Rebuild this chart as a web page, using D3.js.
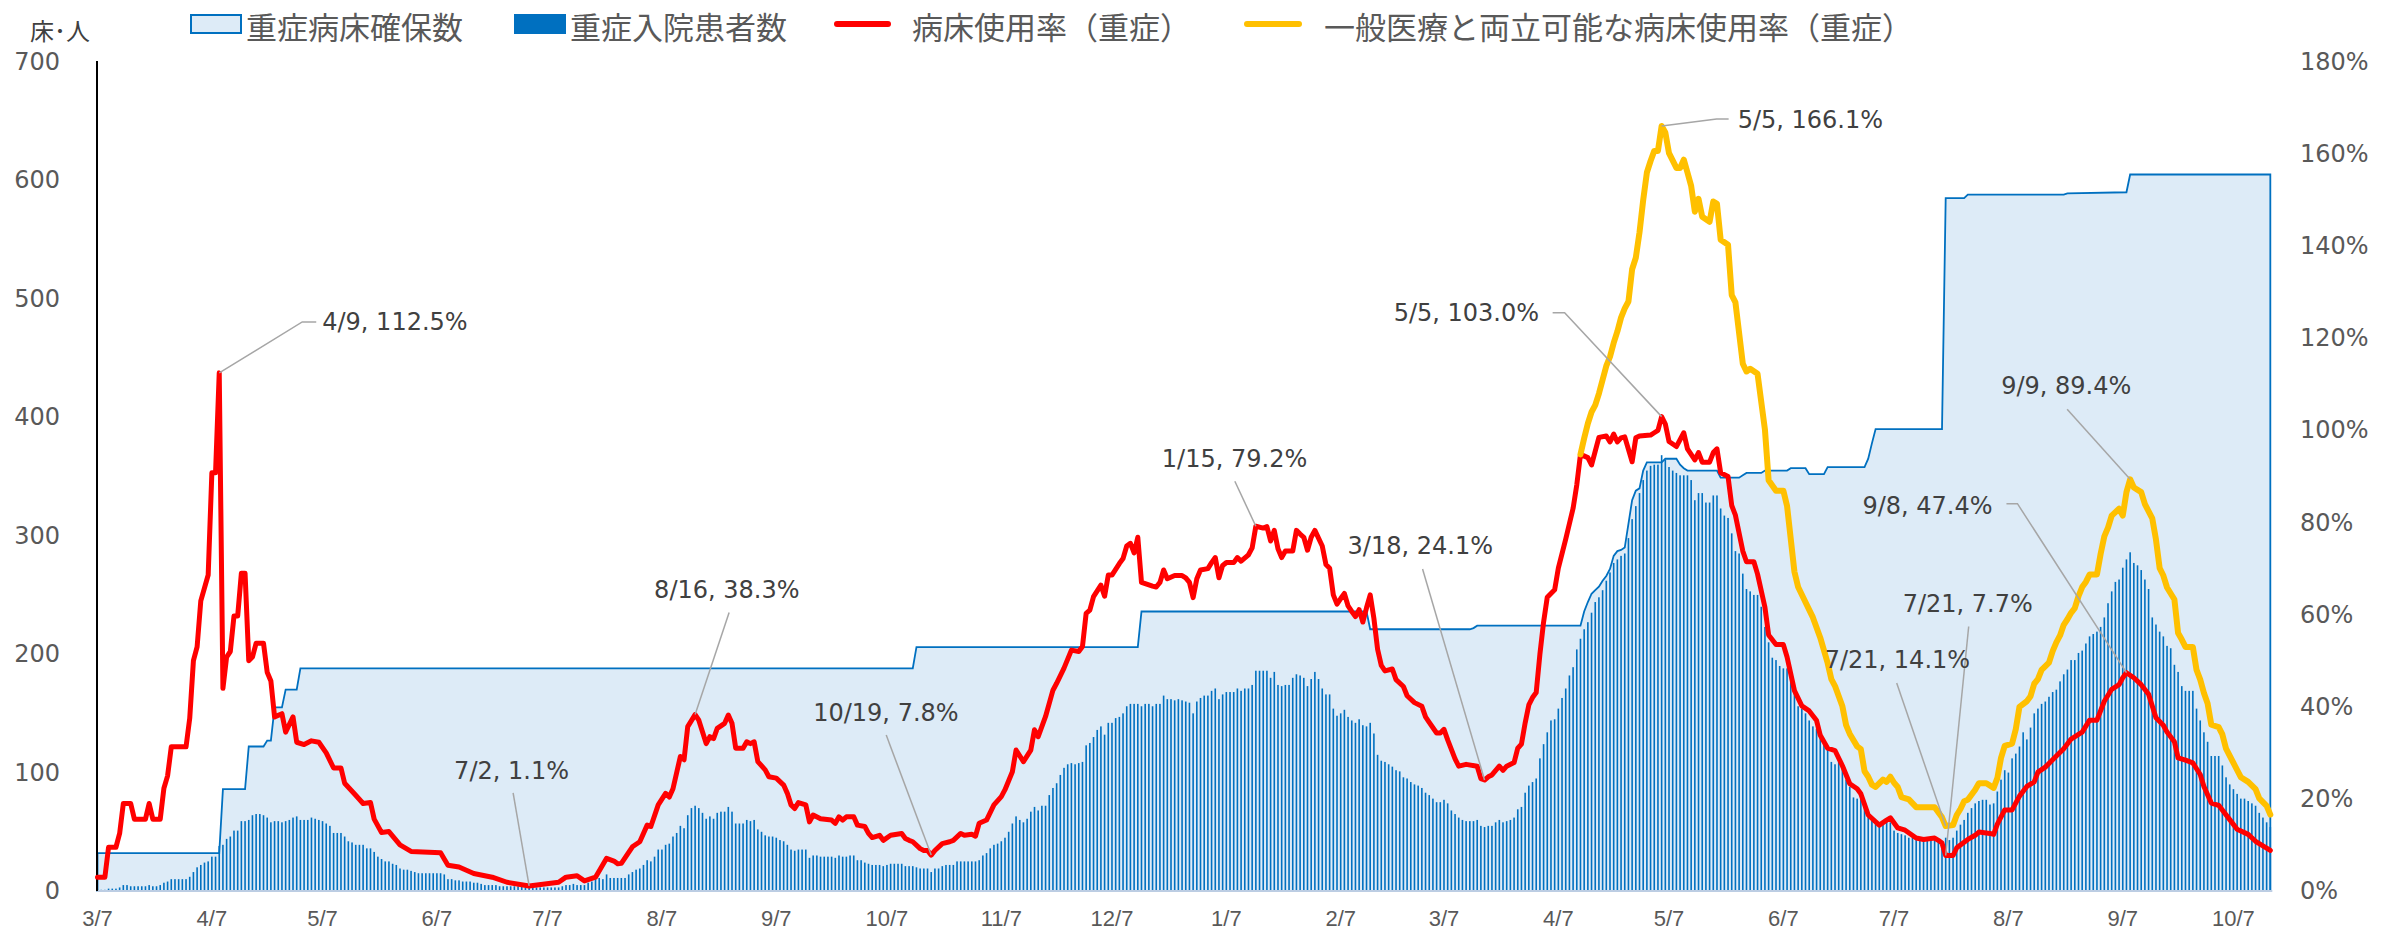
<!DOCTYPE html>
<html>
<head>
<meta charset="utf-8">
<script src="https://cdn.jsdelivr.net/npm/d3@7"></script>
<style>
  body { margin: 0; background: #fff; }
  text { font-family: "DejaVu Sans", Verdana, sans-serif; }
  .jp { font-family: "Noto Sans CJK JP", sans-serif; }
</style>
</head>
<body>
<script>
// data (day offsets counted from 2020-03-07)
const startDate = '2020-03-07';
const lastDay = 589;

// 重症入院患者数, one value per day
const patients = [
  1,1,1,2,2,2,3,5,5,4, 4,4,4,4,5,4,4,5,7,8, 10,10,10,10,10,12,16,20,22,24,
  25,29,29,38,39,44,46,51,51,59, 59,60,64,65,65,64,62,58,59,59, 58,59,60,62,63,60,60,60,62,61,
  60,59,57,55,49,49,49,46,42,41, 39,39,39,36,36,33,29,27,25,25, 23,22,19,18,18,17,16,15,15,15,
  15,15,15,15,14,10,10,9,9,8, 8,8,7,7,6,5,5,5,5,4, 4,4,4,4,4,4,3,3,3,3,
  3,3,3,3,3,3,4,5,5,6, 5,5,5,7,8,10,11,10,14,11, 11,11,11,11,14,16,18,19,22,26,
  25,29,35,35,39,40,46,49,55,53, 64,70,72,70,66,61,63,61,66,67, 67,71,67,57,57,57,60,59,60,52,
  50,47,46,46,45,43,42,39,35,34, 35,35,35,28,30,30,29,29,29,29, 28,30,29,29,30,30,26,26,24,23,
  22,22,22,21,22,23,23,23,23,21, 21,21,20,19,19,19,16,19,19,21, 22,22,22,25,25,25,25,25,25,26,
  30,32,36,39,40,42,45,50,57,63, 60,58,61,67,71,68,72,72,81,87, 91,98,104,107,108,107,108,109,123,125,
  130,136,139,132,142,142,146,147,150,156, 158,158,158,156,158,158,156,158,158,165, 162,162,161,162,161,160,159,150,160,163,
  165,165,169,171,162,166,168,168,168,171, 169,171,171,174,186,186,186,186,180,185, 174,173,174,174,180,183,182,180,173,179,
  185,179,171,166,166,154,148,150,153,147, 144,142,145,140,139,142,133,115,110,109, 107,105,102,101,96,95,92,90,89,87,
  83,81,78,75,75,77,74,68,65,62, 60,59,59,59,60,55,54,55,55,58, 60,58,59,60,62,69,71,83,89,92,
  95,112,124,134,144,145,154,163,171,182, 189,204,213,221,227,235,244,248,254,262, 269,277,280,283,285,298,314,325,336,347,
  355,359,360,360,368,364,358,355,353,351, 351,351,347,330,336,336,328,328,334,334, 323,317,315,302,287,285,268,255,253,250,
  250,240,223,210,197,195,190,188,188,184, 169,156,154,150,144,139,137,131,126,122, 109,107,109,103,94,88,79,78,78,73,
  66,62,58,56,58,60,58,51,49,48, 47,45,45,43,43,43,44,43,44,42, 41,45,43,45,51,56,60,66,70,74,
  76,77,77,73,74,84,94,102,100,112, 116,122,134,128,138,150,154,158,160,164, 168,170,177,183,187,195,195,201,203,209,
  215,217,219,223,231,243,253,261,263,273, 280,286,277,275,271,263,255,231,225,219, 215,207,205,191,185,173,169,169,169,154,
  144,134,126,114,114,114,106,96,90,86, 82,78,78,76,74,72,66,62,58,54
];

// 重症病床確保数 [day, beds]
const beds = [[0,32],[33,32],[34,86],[40,86],[41,122],[45,122],[46,127],[47,127],[48,155],[50,155],[51,170],[54,170],[55,188],
  [221,188],[222,206],[282,206],[283,236],[344,236],[345,221],[372,221],[373,222],[374,224],[402,224],[403,236],[404,244],
  [405,251],[406,254],[407,257],[408,262],[409,266],[410,272],[411,283],[412,287],[413,288],[414,290],[415,310],[416,330],
  [417,338],[418,340],[419,355],[420,362],[424,362],[425,365],[428,365],[429,360],[430,357],[431,355],[439,355],[440,349],
  [445,349],[446,351],[447,353],[451,353],[452,355],[458,355],[459,357],[463,357],[464,352],[468,352],[469,358],[479,358],
  [480,365],[481,378],[482,390],[500,390],[501,585],[506,585],[507,588],[533,588],[534,589],[550,590],[551,605],[589,605]];

// 病床使用率（重症） [day, %]
const rateSevere = [[0,3],[2,3],[3,9.5],[5,9.5],[6,12.5],[7,19],[9,19],[10,15.6],[13,15.6],[14,19],[15,15.6],[17,15.6],[18,22.3],
  [19,25],[20,31.3],[24,31.3],[25,37.5],[26,50],[27,53],[28,63],[30,68.6],[31,90.8],[32,90.8],[33,112.5],[34,44],[35,50.8],
  [36,52],[37,59.7],[38,59.7],[39,69],[40,69],[41,50],[42,50.8],[43,53.8],[45,53.8],[46,47.5],[47,45.6],[48,37.8],[50,38.5],
  [51,34.5],[53,37.8],[54,32.3],[56,31.8],[58,32.6],[60,32.3],[62,30],[64,26.7],[66,26.7],[67,23.4],[70,20.8],[72,19],
  [74,19.2],[75,15.6],[77,12.7],[79,12.9],[82,10],[85,8.6],[93,8.3],[95,5.6],[98,5.2],[102,3.8],[107,3],[111,1.9],[117,1.1],
  [125,1.9],[127,3],[130,3.3],[132,2.2],[135,3],[138,7.1],[140,6.5],[141,5.9],[142,6],[145,9.6],[147,10.7],[149,14.3],
  [150,14],[152,18.7],[154,21.2],[155,20.4],[156,22.2],[158,29.2],[159,28.5],[160,35.7],[162,38.3],[163,37.1],[165,32],
  [166,33.5],[167,33.1],[168,35.3],[170,36.4],[171,38.2],[172,36.4],[173,31],[175,31],[176,32.4],[177,32],[178,32.4],
  [179,28.1],[181,26.3],[182,24.8],[184,24.5],[186,23],[187,21.2],[188,18.7],[189,17.9],[190,19.2],[192,18.7],[193,15],
  [194,16.5],[196,15.7],[199,15.4],[200,14.7],[201,16.1],[202,15.4],[203,16.1],[205,16.1],[206,14.3],[208,14],[209,12.5],
  [210,11.6],[212,12.1],[213,11],[215,12.1],[218,12.5],[219,11.4],[220,11],[221,10.7],[223,9.2],[224,8.8],[225,8.8],
  [226,7.8],[227,8.8],[229,10.3],[231,10.7],[232,11],[234,12.5],[235,12.1],[237,12.3],[238,11.9],[239,14.7],[241,15.4],
  [243,18.7],[245,20.5],[246,22],[248,25.9],[249,30.6],[251,28.1],[253,30.6],[254,35],[255,33.5],[257,37.9],[259,43.6],
  [260,45.1],[262,48.4],[264,52.3],[266,52],[267,53.1],[268,60.3],[269,61],[270,63.9],[272,66.4],[273,64],[274,68.6],
  [275,68.6],[277,71.1],[278,72.2],[279,74.9],[280,75.5],[281,73.4],[282,76.8],[283,67],[286,66.2],[287,66],[288,67],
  [289,69.7],[290,67.8],[292,68.5],[294,68.5],[295,68],[296,67],[297,63.7],[298,67.8],[299,69.7],[301,70],[302,71.3],
  [303,72.4],[304,68],[305,70.7],[306,71.3],[308,71.3],[309,72.4],[310,71.6],[312,73],[313,74.5],[314,79.2],[316,78.8],
  [317,79.1],[318,76],[319,78.3],[320,74.3],[321,72.4],[322,73.8],[324,73.8],[325,78.3],[326,77.5],[327,76.8],[328,74],
  [329,76.8],[330,78.3],[332,74.9],[333,70.9],[334,70.1],[335,64.3],[336,62.3],[337,63.5],[338,64.6],[339,61.9],[340,60.7],
  [341,59.6],[342,61.1],[343,58.4],[344,61.5],[345,64.3],[346,59.2],[347,52.5],[348,49],[349,47.8],[351,48.2],[352,45.9],
  [354,44.4],[355,42.4],[357,40.9],[359,40.1],[360,37.8],[361,36.6],[363,34.3],[364,34.3],[365,35.1],[366,32.8],[368,28.7],
  [369,27.1],[371,27.5],[374,27.1],[375,24.4],[376,24.1],[377,24.8],[378,25.2],[380,27.1],[381,26.2],[382,27.1],[384,27.9],
  [385,31],[386,31.9],[387,36.5],[388,40.4],[389,42],[390,43.1],[391,51.4],[392,58.4],[393,63.8],[395,65.4],[396,70.1],
  [398,76.4],[400,83.1],[401,88.2],[402,94.8],[404,94.1],[405,92.5],[407,98.5],[409,98.8],[410,97.5],[411,99.2],[412,97.5],
  [413,98.4],[414,98.6],[416,93.2],[417,98.4],[418,98.8],[421,99],[422,99.5],[423,100],[424,103],[425,101.4],[426,97.6],
  [428,96.5],[430,99.5],[431,96],[433,93.6],[434,95.2],[435,93.1],[437,93.1],[438,95.2],[439,96],[440,90.8],[442,90],
  [443,83.7],[444,81.6],[446,73.8],[447,71.5],[449,71.5],[450,68.8],[452,61.6],[453,55.6],[455,53.5],[457,53.5],[458,50.8],
  [460,43.5],[462,40.2],[464,39.1],[466,37],[467,33.8],[469,31],[471,30.5],[473,27.2],[475,23.3],[477,22.2],[478,21.1],
  [480,16.5],[483,14.3],[485,15.4],[486,15.9],[488,13.7],[490,13.2],[493,11.5],[495,11.2],[498,11.5],[499,11],[500,10.4],
  [501,7.7],[503,7.7],[504,9.4],[507,11.2],[509,12.1],[510,12.8],[513,12.5],[514,12.3],[515,14.5],[517,17.6],[519,17.6],
  [521,20.6],[523,22.7],[525,23.7],[526,25.8],[528,26.9],[531,29.3],[533,30.9],[535,33],[537,34],[538,34.5],[540,37.1],
  [542,37.1],[544,41.2],[546,43.8],[548,44.8],[549,46.3],[550,47.4],[552,46.3],[554,44.8],[556,42.7],[558,37.6],[560,36],
  [561,34.5],[563,32.4],[564,28.9],[566,28.4],[568,27.8],[570,25.3],[571,22.7],[573,19.1],[575,18.6],[578,15.5],[580,13.4],
  [583,12.3],[585,10.8],[587,9.8],[589,8.8]];

// 一般医療と両立可能な病床使用率（重症） [day, %]
const rateCompat = [[402,94.8],[403,98.3],[404,101.5],[405,104],[406,105.5],[407,108],[408,111],[409,114],[410,116],[411,119],
  [412,121.5],[413,124.5],[414,126.5],[415,128],[416,135],[417,137.5],[418,143],[419,150],[420,156],[421,158.5],[422,160.7],
  [423,160.7],[424,166.1],[425,164.7],[426,160.2],[428,157],[429,157],[430,158.8],[431,156],[432,153.1],[433,147.5],
  [434,150.3],[435,146.4],[437,145.3],[438,149.7],[439,149.2],[440,141.4],[442,140.3],[443,129.4],[444,127.8],[446,114.5],
  [447,112.8],[448,113.4],[450,112.3],[452,100.2],[453,89.2],[455,86.9],[457,86.9],[458,83.6],[460,69.3],[461,66],
  [463,62.7],[465,59.4],[467,55],[469,49.5],[470,46],[471,44.5],[473,40.1],[474,36],[475,34.1],[477,31.4],[478,30.8],
  [479,26],[480,24.8],[481,23.1],[482,22.6],[484,24.2],[485,23.7],[486,24.8],[487,23.5],[488,22.6],[489,20.4],[491,19.9],
  [493,18.2],[498,18.2],[499,17.1],[500,16],[501,14.1],[503,14.3],[504,16.5],[505,17.8],[506,19.5],[507,19.8],[509,22],
  [510,23.4],[512,23.4],[514,22.4],[515,24.5],[516,28.9],[517,31.5],[519,32],[520,35.1],[521,40],[523,41.2],[524,42.3],
  [525,45],[526,46],[527,48],[529,49.6],[530,52.1],[531,54],[532,55.5],[533,57.8],[534,59],[535,60.4],[536,61.4],[537,64],
  [538,66],[539,67.1],[540,68.7],[542,68.7],[543,73.2],[544,77],[545,78.9],[546,81.5],[548,83],[549,81.5],[550,86.6],
  [551,89.4],[552,87.6],[554,86.6],[555,84],[557,80.9],[558,76.3],[559,70.1],[560,68.5],[561,65.9],[563,63.3],[564,56],
  [565,54.6],[566,53],[568,53],[569,48],[570,45.9],[571,43],[572,40.7],[573,36.1],[575,35.6],[576,34],[577,30.9],[579,27.8],
  [581,24.7],[583,23.7],[585,22.1],[586,20.1],[588,18.5],[589,16.6]];

const tickDates = ['2020-03-07','2020-04-07','2020-05-07','2020-06-07','2020-07-07','2020-08-07','2020-09-07','2020-10-07',
  '2020-11-07','2020-12-07','2021-01-07','2021-02-07','2021-03-07','2021-04-07','2021-05-07','2021-06-07','2021-07-07',
  '2021-08-07','2021-09-07','2021-10-07'];
const leftTicks = [0,100,200,300,400,500,600,700];
const rightTicks = [0,20,40,60,80,100,120,140,160,180];

// labelled points: series, day, text; label offset and leader bends are relative to the point
const notes = [
  {s:'severe', day:33,  text:'4/9, 112.5%',  tx:103,  ty:-51,  path:[[97,-51],[83,-51]]},
  {s:'severe', day:117, text:'7/2, 1.1%',    tx:-75,  ty:-115, path:[[-16,-93]]},
  {s:'severe', day:162, text:'8/16, 38.3%',  tx:-41,  ty:-125, path:[[34,-102]]},
  {s:'severe', day:226, text:'10/19, 7.8%',  tx:-118, ty:-142, path:[[-45,-120]]},
  {s:'severe', day:314, text:'1/15, 79.2%',  tx:-94,  ty:-67,  path:[[-21,-45]]},
  {s:'severe', day:376, text:'3/18, 24.1%',  tx:-137, ty:-234, path:[[-62,-211]]},
  {s:'severe', day:424, text:'5/5, 103.0%',  tx:-268, ty:-104, path:[[-109,-104],[-97,-104]]},
  {s:'compat', day:424, text:'5/5, 166.1%',  tx:76,   ty:-6,   path:[[67,-7],[55,-7]]},
  {s:'compat', day:551, text:'9/9, 89.4%',   tx:-129, ty:-93,  path:[[-63,-70]]},
  {s:'severe', day:550, text:'9/8, 47.4%',   tx:-264, ty:-167, path:[[-120,-169],[-109,-169]]},
  {s:'severe', day:501, text:'7/21, 7.7%',   tx:-43,  ty:-252, path:[[23,-229]]},
  {s:'compat', day:501, text:'7/21, 14.1%',  tx:-121, ty:-166, path:[[-49,-143]]}
];

const width = 2402, height = 934;
const svg = d3.select('body').append('svg')
  .attr('width', width).attr('height', height);

const t0 = d3.utcParse('%Y-%m-%d')(startDate);
const day = d => d3.utcDay.offset(t0, d);

const xScale = d3.scaleUtc()
  .domain([t0, day(lastDay)])
  .range([97.5, 97.5 + lastDay * 3.689]);
const yLeft = d3.scaleLinear().domain([0, 700]).range([891, 62]);
const yRight = d3.scaleLinear().domain([0, 180]).range([891, 62]);

// beds area
const area = d3.area()
  .x(d => xScale(day(d[0])))
  .y0(yLeft(0))
  .y1(d => yLeft(d[1]));
svg.append('path')
  .datum(beds)
  .attr('d', area)
  .attr('fill', '#ddebf7')
  .attr('stroke', '#0070c0')
  .attr('stroke-width', 1.8)
  .attr('stroke-linejoin', 'miter');

// patients bars
const bw = 1.6;
svg.append('g').selectAll('rect')
  .data(patients)
  .join('rect')
  .attr('x', (d, i) => xScale(day(i)) - bw / 2)
  .attr('y', d => yLeft(d))
  .attr('width', bw)
  .attr('height', d => yLeft(0) - yLeft(d))
  .attr('fill', '#0070c0');

// axis lines
svg.append('line')
  .attr('x1', 97).attr('x2', xScale(day(lastDay)) + 2)
  .attr('y1', 891).attr('y2', 891)
  .attr('stroke', '#bccde3').attr('stroke-width', 2);
svg.append('line')
  .attr('x1', 97).attr('x2', 97)
  .attr('y1', 61).attr('y2', 891)
  .attr('stroke', '#000').attr('stroke-width', 2);

// rate lines
const rateLine = d3.line()
  .x(d => xScale(day(d[0])))
  .y(d => yRight(d[1]));
svg.append('path')
  .datum(rateSevere)
  .attr('d', rateLine)
  .attr('fill', 'none')
  .attr('stroke', '#ff0000')
  .attr('stroke-width', 5)
  .attr('stroke-linejoin', 'round')
  .attr('stroke-linecap', 'round');
svg.append('path')
  .datum(rateCompat)
  .attr('d', rateLine)
  .attr('fill', 'none')
  .attr('stroke', '#ffc000')
  .attr('stroke-width', 6)
  .attr('stroke-linejoin', 'round')
  .attr('stroke-linecap', 'round');

// tick labels
svg.append('g').selectAll('text')
  .data(leftTicks)
  .join('text')
  .attr('x', 60)
  .attr('y', d => yLeft(d))
  .attr('text-anchor', 'end')
  .attr('dominant-baseline', 'central')
  .attr('font-size', 24)
  .attr('fill', '#595959')
  .text(d => d);

svg.append('g').selectAll('text')
  .data(rightTicks)
  .join('text')
  .attr('x', 2300)
  .attr('y', d => yRight(d))
  .attr('dominant-baseline', 'central')
  .attr('font-size', 24)
  .attr('fill', '#595959')
  .text(d => d + '%');

const parse = d3.utcParse('%Y-%m-%d');
const fmt = d3.utcFormat('%-m/%-d');
svg.append('g').selectAll('text')
  .data(tickDates)
  .join('text')
  .attr('x', d => xScale(parse(d)))
  .attr('y', 918)
  .attr('text-anchor', 'middle')
  .attr('dominant-baseline', 'central')
  .attr('font-size', 22)
  .attr('fill', '#595959')
  .style('font-family', '"Liberation Sans", Arial, sans-serif')
  .text(d => fmt(parse(d)));

// unit label
svg.append('text')
  .attr('class', 'jp')
  .attr('x', 30).attr('y', 29)
  .attr('dominant-baseline', 'central')
  .attr('font-size', 24)
  .attr('fill', '#404040')
  .text('床･人');

// data labels with leader lines
const lookup = {severe: rateSevere, compat: rateCompat};
notes.forEach(n => {
  const p = lookup[n.s].find(d => d[0] === n.day);
  const ax = xScale(day(n.day)), ay = yRight(p[1]);
  const pts = n.path.map(q => [ax + q[0], ay + q[1]]).concat([[ax, ay]]);
  svg.append('path')
    .attr('d', d3.line()(pts))
    .attr('fill', 'none')
    .attr('stroke', '#a6a6a6')
    .attr('stroke-width', 1.5);
  svg.append('text')
    .attr('x', ax + n.tx)
    .attr('y', ay + n.ty)
    .attr('dominant-baseline', 'central')
    .attr('font-size', 24)
    .attr('fill', '#404040')
    .text(n.text);
});

// legend
const legend = svg.append('g');
legend.append('rect').attr('x', 191).attr('y', 15).attr('width', 50).attr('height', 18)
  .attr('fill', '#ddebf7').attr('stroke', '#0070c0').attr('stroke-width', 2);
legend.append('rect').attr('x', 514).attr('y', 14).attr('width', 52).attr('height', 20)
  .attr('fill', '#0070c0');
legend.append('line').attr('x1', 837).attr('x2', 888).attr('y1', 24).attr('y2', 24)
  .attr('stroke', '#ff0000').attr('stroke-width', 6).attr('stroke-linecap', 'round');
legend.append('line').attr('x1', 1247).attr('x2', 1299).attr('y1', 24).attr('y2', 24)
  .attr('stroke', '#ffc000').attr('stroke-width', 6).attr('stroke-linecap', 'round');
const legendText = [
  {x: 246, t: '重症病床確保数'},
  {x: 570, t: '重症入院患者数'},
  {x: 912, t: '病床使用率（重症）'},
  {x: 1324, t: '一般医療と両立可能な病床使用率（重症）'}
];
legend.selectAll('text')
  .data(legendText)
  .join('text')
  .attr('class', 'jp')
  .attr('x', d => d.x)
  .attr('y', 25)
  .attr('dominant-baseline', 'central')
  .attr('font-size', 31)
  .attr('fill', '#595959')
  .text(d => d.t);
</script>
</body>
</html>
